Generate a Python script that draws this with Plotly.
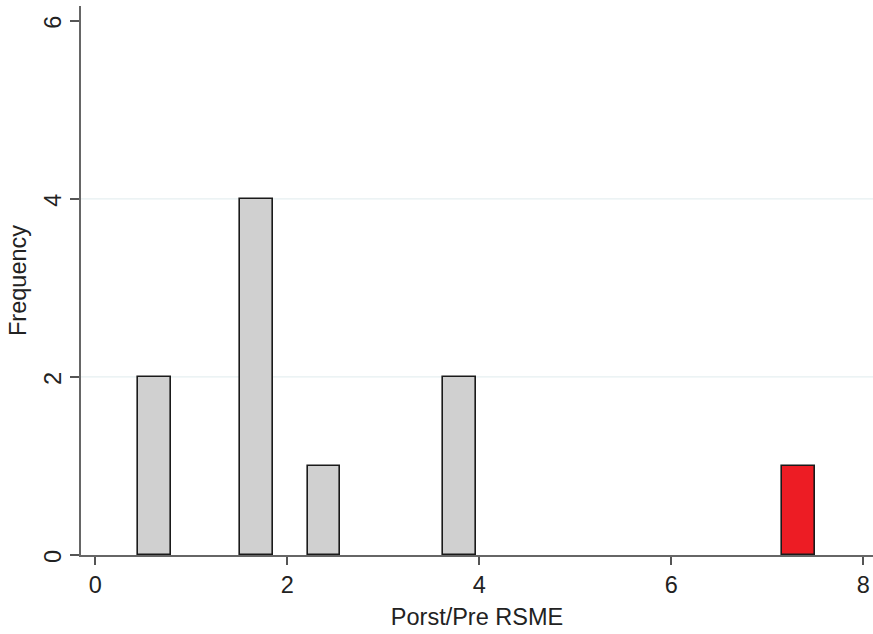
import plotly.graph_objects as go

# Histogram bins: centre, count and fill colour
bin_centers = [0.617, 1.678, 2.380, 3.792, 7.323]
counts = [2, 4, 1, 2, 1]
bar_colors = ["#d0d0d0", "#d0d0d0", "#d0d0d0", "#d0d0d0", "#ed1c24"]
bin_width = 0.337

x_ticks = [0, 2, 4, 6, 8]
y_ticks = [0, 2, 4, 6]
y_grid = [2, 4]

FONT = "Liberation Sans, Arial, sans-serif"
FS = 23.5

fig = go.Figure(
    go.Bar(
        x=bin_centers,
        y=counts,
        width=bin_width,
        marker=dict(color=bar_colors, line=dict(color="#1a1a1a", width=1.6)),
        hoverinfo="x+y",
    )
)

for g in y_grid:
    fig.add_shape(
        type="line", xref="paper", yref="y", x0=0, x1=1, y0=g, y1=g,
        line=dict(color="#e6eff1", width=1.3), layer="below",
    )

fig.update_layout(
    width=873,
    height=634,
    margin=dict(l=81, r=0, t=6, b=79),
    paper_bgcolor="white",
    plot_bgcolor="white",
    showlegend=False,
    bargap=0,
    font=dict(family=FONT, size=FS, color="#222222"),
    xaxis=dict(
        range=[-0.149, 8.10],
        tickvals=x_ticks,
        ticktext=[str(v) for v in x_ticks],
        ticks="outside",
        ticklen=8,
        tickwidth=1.5,
        tickcolor="#555555",
        showline=True,
        linecolor="#666666",
        linewidth=1.6,
        showgrid=False,
        zeroline=False,
        title=dict(text="Porst/Pre RSME", font=dict(size=FS), standoff=12),
    ),
    yaxis=dict(
        range=[0, 6.165],
        tickvals=y_ticks,
        ticktext=[str(v) for v in y_ticks],
        tickangle=-90,
        ticklabelshift=5,
        ticks="outside",
        ticklen=9,
        tickwidth=1.5,
        tickcolor="#555555",
        showline=True,
        linecolor="#666666",
        linewidth=1.6,
        showgrid=False,
        zeroline=False,
        title=dict(text="Frequency", font=dict(size=FS), standoff=7),
    ),
)

fig.write_html("out.html")
